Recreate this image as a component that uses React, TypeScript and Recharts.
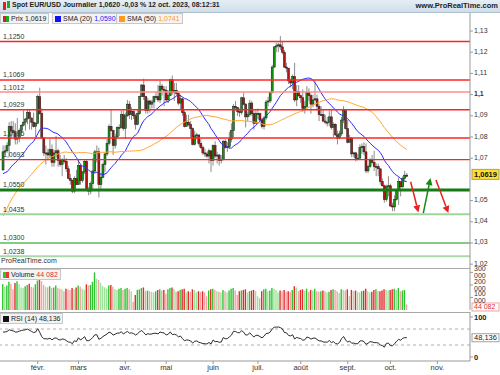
import React from 'react';
import { ComposedChart, Bar, Line, XAxis, YAxis, ReferenceLine, Cell } from 'recharts';

// EUR/USD daily, index 0 = 9 janv. 2023 ... index 198 = 12 oct. 2023
// closes before the first candle (1 nov. 2022 - 6 janv. 2023), only used to seed the SMA / RSI
const priorCloses = [
  0.9875, 0.9815, 0.975, 0.996, 1.002, 1.0075, 1.001, 1.021, 1.0355, 1.0325, 1.035, 1.0395, 1.0365, 1.0325,
  1.0245, 1.0305, 1.0405, 1.041, 1.04, 1.034, 1.033, 1.0405,
  1.0525, 1.0535, 1.049, 1.0465, 1.0505, 1.0555, 1.0535, 1.054, 1.063, 1.068, 1.0625, 1.0585, 1.0605, 1.0625,
  1.0605, 1.0595, 1.0615, 1.064, 1.064, 1.061, 1.066, 1.0705,
  1.067, 1.0545, 1.0605, 1.052, 1.0645,
];

const closes = [
  // janv.
  1.073, 1.0735, 1.076, 1.085, 1.083, 1.082, 1.079, 1.0795, 1.083, 1.0855, 1.087, 1.0885, 1.0915, 1.089, 1.087, 1.085, 1.0865,
  // févr.
  1.099, 1.091, 1.0795, 1.0725, 1.0725, 1.0715, 1.074, 1.068, 1.0725, 1.0735, 1.069, 1.067, 1.0695, 1.0685, 1.065, 1.0605, 1.0595, 1.0545, 1.0605, 1.0575,
  // mars
  1.0665, 1.0595, 1.0635, 1.0685, 1.055, 1.0545, 1.058, 1.064, 1.073, 1.073, 1.0575, 1.061, 1.067, 1.072, 1.077, 1.085, 1.083, 1.076, 1.08, 1.0845, 1.0845, 1.0905, 1.084,
  // avr.
  1.09, 1.0955, 1.0905, 1.092, 1.09, 1.086, 1.091, 1.099, 1.1045, 1.099, 1.0925, 1.097, 1.0955, 1.0965, 1.099, 1.099, 1.0975, 1.104, 1.1025, 1.102,
  // mai
  1.0975, 1.0995, 1.107, 1.101, 1.102, 1.1005, 1.096, 1.098, 1.0915, 1.085, 1.087, 1.086, 1.084, 1.0765, 1.0805, 1.081, 1.077, 1.075, 1.0725, 1.072, 1.071, 1.0735, 1.069,
  // juin
  1.076, 1.071, 1.0715, 1.069, 1.0695, 1.078, 1.075, 1.0755, 1.079, 1.083, 1.0945, 1.094, 1.092, 1.0915, 1.0985, 1.0955, 1.0895, 1.0905, 1.096, 1.091, 1.0865, 1.091,
  // juil.
  1.091, 1.088, 1.085, 1.089, 1.0965, 1.097, 1.101, 1.113, 1.1225, 1.123, 1.1235, 1.1225, 1.12, 1.113, 1.1125, 1.1065, 1.1055, 1.1085, 1.0975, 1.1015, 1.0995,
  // août
  1.0985, 1.0935, 1.0945, 1.101, 1.0995, 1.0955, 1.0975, 1.098, 1.0945, 1.0905, 1.0905, 1.0875, 1.087, 1.087, 1.0895, 1.0845, 1.086, 1.081, 1.0795, 1.0815, 1.088, 1.0925, 1.084,
  // sept.
  1.0775, 1.0795, 1.072, 1.0725, 1.07, 1.07, 1.075, 1.0755, 1.073, 1.064, 1.066, 1.069, 1.068, 1.066, 1.066, 1.065, 1.059, 1.057, 1.0505, 1.0565, 1.057,
  // oct.
  1.0475, 1.047, 1.0505, 1.055, 1.059, 1.0565, 1.0605, 1.062, 1.0619,
];

const highs = [
  1.076, 1.076, 1.0775, 1.087, 1.0875, 1.0875, 1.0865, 1.089, 1.084, 1.086, 1.0925, 1.089, 1.093, 1.093, 1.089, 1.0915, 1.087,
  1.1, 1.1033, 1.0935, 1.08, 1.076, 1.0745, 1.079, 1.0765, 1.074, 1.0805, 1.0745, 1.0715, 1.07, 1.0715, 1.07, 1.0665, 1.0625, 1.06, 1.0615, 1.0645,
  1.069, 1.067, 1.064, 1.0695, 1.0695, 1.0565, 1.059, 1.07, 1.074, 1.076, 1.075, 1.063, 1.068, 1.0725, 1.079, 1.086, 1.093, 1.0835, 1.0815, 1.085, 1.086, 1.0925, 1.0925,
  1.0915, 1.0975, 1.097, 1.094, 1.0925, 1.091, 1.0925, 1.0995, 1.105, 1.1075, 1.0995, 1.0985, 1.0975, 1.0975, 1.0995, 1.1015, 1.1045, 1.1065, 1.105, 1.104,
  1.104, 1.102, 1.1075, 1.109, 1.1055, 1.1055, 1.1015, 1.1, 1.0985, 1.0925, 1.0905, 1.0905, 1.0875, 1.0845, 1.083, 1.082, 1.081, 1.079, 1.076, 1.0745, 1.073, 1.0745, 1.0735,
  1.0765, 1.078, 1.073, 1.072, 1.0715, 1.0785, 1.079, 1.0775, 1.0825, 1.0865, 1.0955, 1.097, 1.094, 1.0935, 1.099, 1.101, 1.096, 1.092, 1.0975, 1.097, 1.0925, 1.093,
  1.0935, 1.0915, 1.089, 1.09, 1.0975, 1.099, 1.1015, 1.114, 1.123, 1.1245, 1.1245, 1.1276, 1.125, 1.121, 1.115, 1.1125, 1.1075, 1.1095, 1.115, 1.1045, 1.1045,
  1.1, 1.1025, 1.097, 1.104, 1.103, 1.1005, 1.1, 1.1065, 1.1, 1.0955, 1.0945, 1.093, 1.0905, 1.0895, 1.0925, 1.093, 1.087, 1.0865, 1.083, 1.083, 1.0895, 1.0945, 1.093,
  1.088, 1.081, 1.08, 1.073, 1.073, 1.072, 1.0765, 1.077, 1.0775, 1.077, 1.067, 1.07, 1.0715, 1.0735, 1.0675, 1.0675, 1.065, 1.0605, 1.0575, 1.0575, 1.0615,
  1.058, 1.049, 1.0525, 1.0555, 1.061, 1.058, 1.0615, 1.064, 1.063,
];

const lows = [
  1.064, 1.0715, 1.0725, 1.071, 1.079, 1.08, 1.0765, 1.0765, 1.0775, 1.0805, 1.085, 1.083, 1.086, 1.0835, 1.0835, 1.0845, 1.08,
  1.086, 1.0905, 1.0795, 1.071, 1.067, 1.069, 1.07, 1.066, 1.066, 1.0705, 1.066, 1.066, 1.0615, 1.0675, 1.0635, 1.06, 1.0575, 1.0535, 1.0535, 1.0575,
  1.0575, 1.0575, 1.0585, 1.0625, 1.0545, 1.0525, 1.053, 1.055, 1.0625, 1.068, 1.0515, 1.055, 1.0605, 1.0635, 1.071, 1.076, 1.0825, 1.0715, 1.0745, 1.0795, 1.0805, 1.084, 1.083,
  1.079, 1.0895, 1.0885, 1.088, 1.0885, 1.0835, 1.0855, 1.0905, 1.099, 1.0975, 1.091, 1.091, 1.0915, 1.0935, 1.0935, 1.0975, 1.0965, 1.096, 1.0995, 1.0945,
  1.0965, 1.096, 1.0995, 1.1, 1.097, 1.0995, 1.095, 1.093, 1.09, 1.0845, 1.085, 1.085, 1.08, 1.076, 1.076, 1.079, 1.076, 1.0745, 1.0715, 1.0705, 1.07, 1.0675, 1.0635,
  1.0665, 1.07, 1.0675, 1.0665, 1.0675, 1.069, 1.0745, 1.073, 1.0745, 1.0775, 1.08, 1.0925, 1.09, 1.0895, 1.0905, 1.095, 1.0845, 1.0875, 1.0895, 1.09, 1.0835, 1.0865,
  1.0885, 1.0875, 1.084, 1.0835, 1.088, 1.0945, 1.096, 1.1005, 1.1125, 1.12, 1.12, 1.121, 1.119, 1.1125, 1.1105, 1.105, 1.1035, 1.1025, 1.0965, 1.0945, 1.099,
  1.096, 1.092, 1.091, 1.0935, 1.097, 1.091, 1.094, 1.097, 1.0925, 1.0875, 1.09, 1.087, 1.086, 1.085, 1.085, 1.0835, 1.08, 1.0805, 1.0765, 1.079, 1.0805, 1.0865, 1.0835,
  1.077, 1.0775, 1.0705, 1.0705, 1.0685, 1.069, 1.07, 1.072, 1.0715, 1.063, 1.063, 1.0655, 1.0675, 1.064, 1.0615, 1.0615, 1.0575, 1.0565, 1.049, 1.0495, 1.052,
  1.047, 1.045, 1.045, 1.05, 1.048, 1.052, 1.056, 1.059, 1.061,
];

// volume in thousands
const volumeK = [
  205, 185, 195, 225, 210, 165, 215, 230, 205, 180, 175, 190, 200, 210, 185, 180, 205,
  235, 240, 230, 200, 185, 180, 190, 175, 180, 195, 175, 170, 165, 150, 170, 165, 160, 175, 165, 180,
  195, 185, 170, 160, 205, 195, 200, 225, 300, 250, 240, 215, 190, 180, 170, 195, 200, 185, 165, 160, 170, 175, 160,
  170, 175, 165, 150, 65, 120, 160, 165, 175, 180, 150, 155, 150, 145, 140, 150, 160, 165, 155, 160,
  130, 165, 175, 180, 165, 145, 150, 160, 165, 170, 140, 150, 145, 165, 160, 140, 150, 145, 150, 140, 110, 155, 165,
  170, 160, 150, 145, 140, 160, 150, 140, 155, 170, 175, 155, 120, 150, 155, 160, 165, 140, 150, 155, 160, 150,
  110, 95, 150, 165, 170, 150, 155, 175, 170, 160, 140, 155, 150, 160, 145, 150, 145, 160, 190, 180, 150,
  160, 165, 155, 170, 145, 160, 155, 170, 150, 145, 150, 155, 150, 140, 145, 160, 165, 160, 150, 135, 165, 160, 155,
  165, 110, 160, 150, 155, 145, 140, 150, 155, 170, 150, 140, 145, 160, 165, 150, 150, 155, 165, 160, 155,
  160, 165, 170, 160, 175, 150, 155, 160, 44.082,
];

const monthTicks = [17, 37, 60, 80, 103, 125, 146, 169, 190, 213];
const monthLabels = ['févr.', 'mars', 'avr.', 'mai', 'juin', 'juil.', 'août', 'sept.', 'oct.', 'nov.'];
// 1,06 sits under the last-price tag in the reference, so it is not listed
const priceTicks = [1.02, 1.03, 1.04, 1.05, 1.07, 1.08, 1.09, 1.1, 1.11, 1.12, 1.13];

const levelValues = [1.125, 1.1069, 1.1012, 1.0929, 1.0795, 1.0693, 1.055, 1.0435, 1.03, 1.0238];
const levelLabels = ['1,1250', '1,1069', '1,1012', '1,0929', '1,0795', '1,0693', '1,0550', '1,0435', '1,0300', '1,0238'];

// scenario arrows drawn after the last candle: [index, price]
const arrowFrom = [[199.9, 1.0589], [206.1, 1.0441], [212.3, 1.0597]];
const arrowTo = [[203.7, 1.0444], [209.6, 1.0606], [218.4, 1.0441]];

const lastPrice = 1.0619;
const lastRsi = 48.136;

// ---- styles ----
const FONT = '"Liberation Sans", Arial, sans-serif';
const levelStyle = [
  { c: '#ff2424', w: 1.5 },
  { c: '#ff2424', w: 1.5 },
  { c: '#ff8c8c', w: 1.5 },
  { c: '#ff2424', w: 1.5 },
  { c: '#ff2424', w: 1.5 },
  { c: '#ff2424', w: 1.2 },
  { c: '#177a17', w: 3 },
  { c: '#9ed69e', w: 2 },
  { c: '#5cb85c', w: 1.5 },
  { c: '#a8daa8', w: 2 },
];
const arrowColors = ['#e82020', '#148c14', '#e82020'];
const X_DOMAIN: [number, number] = [-1.5, 229];

// ---- derived series ----
const allCloses = [...priorCloses, ...closes];
const P = priorCloses.length;
const sma = (n: number, k: number) => {
  let s = 0;
  for (let j = k - n + 1; j <= k; j++) s += allCloses[j];
  return s / n;
};
const rsiAll: number[] = [];
{
  let ag = 0, al = 0;
  for (let j = 1; j < allCloses.length; j++) {
    const d = allCloses[j] - allCloses[j - 1];
    const g = Math.max(d, 0), l = Math.max(-d, 0);
    if (j <= 14) { ag += g / 14; al += l / 14; }
    else { ag = (ag * 13 + g) / 14; al = (al * 13 + l) / 14; }
    rsiAll[j] = al === 0 ? 100 : 100 - 100 / (1 + ag / al);
  }
}

const rows = closes.map((c, i) => {
  const o = allCloses[P + i - 1];
  const up = c >= o;
  const lighter = i > 0 && volumeK[i] < volumeK[i - 1];
  return {
    i, o, c, h: highs[i], l: lows[i],
    range: [lows[i], highs[i]],
    sma20: sma(20, P + i),
    sma50: sma(50, P + i),
    vol: volumeK[i],
    volColor: up ? (lighter ? '#9be39b' : '#2ec42e') : (lighter ? '#f2a3a3' : '#e22c2c'),
    rsi: rsiAll[P + i],
  };
});

const fmt = (v: number) => String(parseFloat(v.toFixed(4))).replace('.', ',');

function Candle(props: any) {
  const { x, y, width, height, payload } = props;
  if (!payload || height == null) return null;
  const { o, c, h, l } = payload;
  const top = Math.min(y, y + height);
  const span = Math.abs(height);
  const k = h > l ? span / (h - l) : 0;
  const cx = x + width / 2;
  const bTop = top + (h - Math.max(o, c)) * k;
  const bH = Math.max(1, Math.abs(o - c) * k);
  return (
    <g>
      <line x1={cx} x2={cx} y1={top} y2={top + span} stroke="#8c8c8c" strokeWidth={1} />
      <rect x={cx - 1} y={bTop} width={2} height={bH} fill={c >= o ? '#129612' : '#b01515'} stroke="#1a1a1a" strokeWidth={0.5} />
    </g>
  );
}

function LevelLabel({ viewBox, text }: any) {
  if (!viewBox) return null;
  return (
    <text x={viewBox.x + 3} y={viewBox.y - 2.5} fontSize={7} fill="#333" fontFamily={FONT}>{text}</text>
  );
}

function Tag({ viewBox, text, fill, stroke, color, bold, h = 10, dy = 0, fs = 7.5 }: any) {
  if (!viewBox) return null;
  const x = viewBox.x + viewBox.width + 2;
  const cy = viewBox.y + dy;
  return (
    <g>
      <rect x={x} y={cy - h / 2} width={27} height={h} fill={fill} stroke={stroke} strokeWidth={1} />
      <text x={x + 2} y={cy + fs / 3} fontSize={fs} fontWeight={bold ? 'bold' : 'normal'} fill={color} fontFamily={FONT}>{text}</text>
    </g>
  );
}

function Arrow(props: any) {
  const { x1, y1, x2, y2, color } = props;
  if ([x1, y1, x2, y2].some((v) => v == null)) return null;
  const a = Math.atan2(y2 - y1, x2 - x1);
  const len = 7, hw = 3.5;
  const bx = x2 - len * Math.cos(a), by = y2 - len * Math.sin(a);
  const px = -Math.sin(a) * hw, py = Math.cos(a) * hw;
  return (
    <g>
      <line x1={x1} y1={y1} x2={bx} y2={by} stroke={color} strokeWidth={1.5} />
      <polygon points={`${x2},${y2} ${bx + px},${by + py} ${bx - px},${by - py}`} fill={color} />
    </g>
  );
}

function PriceTick({ x, y, payload }: any) {
  const v = payload.value;
  const s = String(parseFloat(v.toFixed(2))).replace('.', ',');
  return (
    <text x={x} y={y + 1.5} fontSize={7} fill="#333" fontFamily={FONT} fontWeight={Math.abs(v - 1.1) < 1e-6 ? 'bold' : 'normal'}>{s}</text>
  );
}

const boxStyle: React.CSSProperties = {
  position: 'absolute', height: 9, background: '#f3f3f3', border: '1px solid #c8c8c8',
  fontSize: 7, lineHeight: '9px', color: '#222', display: 'flex', alignItems: 'center', gap: 2, padding: '0 2px',
};
const sq = (bg: string): React.CSSProperties => ({ width: 6, height: 6, background: bg, display: 'inline-block' });

export default function App() {
  return (
    <div style={{ position: 'absolute', left: 0, top: 0, width: 500, height: 375, background: '#fff', fontFamily: FONT, overflow: 'hidden' }}>
      {/* title bar */}
      <div style={{ position: 'absolute', left: 0, top: 0, width: 500, height: 12, background: 'linear-gradient(#e6eef5, #cfdeea)', borderBottom: '1px solid #aebfcd' }} />
      <div style={{ position: 'absolute', left: 3, top: 2, width: 3, height: 8, background: '#d22' }} />
      <div style={{ position: 'absolute', left: 7, top: 1, width: 3, height: 7, background: '#2a2' }} />
      <div style={{ position: 'absolute', left: 12, top: 1, fontSize: 7, fontWeight: 'bold', color: '#222', whiteSpace: 'nowrap' }}>
        Spot EUR/USD Journalier 1,0620 -0,03 % 12 oct. 2023, 08:12:31
      </div>
      <div style={{ position: 'absolute', right: 2, top: 1, fontSize: 7.5, fontWeight: 'bold', color: '#222' }}>www.ProRealTime.com</div>

      {/* price panel */}
      <div style={{ position: 'absolute', left: 0, top: 13 }}>
        <ComposedChart width={500} height={255} data={rows} margin={{ top: 0, right: 0, bottom: 0, left: 0 }}>
          <XAxis type="number" dataKey="i" domain={X_DOMAIN} hide allowDataOverflow />
          <YAxis orientation="right" width={30} domain={[1.0182, 1.1385]} ticks={priceTicks} allowDataOverflow
            tick={<PriceTick />} tickSize={3} tickMargin={1} stroke="#999" interval={0} />
          <Bar dataKey="range" barSize={2} shape={<Candle />} isAnimationActive={false} />
          <Line dataKey="sma20" stroke="#2b2bff" strokeWidth={1} dot={false} isAnimationActive={false} />
          <Line dataKey="sma50" stroke="#ffa531" strokeWidth={1} dot={false} isAnimationActive={false} />
          {levelValues.map((v, k) => (
            <ReferenceLine key={v} y={v} stroke={levelStyle[k].c} strokeWidth={levelStyle[k].w}
              label={<LevelLabel text={levelLabels[k]} />} />
          ))}
          {arrowFrom.map((a, k) => (
            <ReferenceLine key={'a' + k} segment={[{ x: a[0], y: a[1] }, { x: arrowTo[k][0], y: arrowTo[k][1] }]}
              shape={(p: any) => <Arrow {...p} color={arrowColors[k]} />} />
          ))}
          <ReferenceLine y={lastPrice} stroke="none"
            label={<Tag text={fmt(lastPrice)} fill="#ffdd33" stroke="#b3a04a" color="#111" bold dy={-1} />} />
        </ComposedChart>
      </div>
      <div style={{ position: 'absolute', left: 1, top: 257, fontSize: 7, color: '#333' }}>ProRealTime.com</div>

      {/* volume panel */}
      <div style={{ position: 'absolute', left: 0, top: 268, width: 470, borderTop: '1px solid #aaa' }} />
      <div style={{ position: 'absolute', left: 0, top: 266 }}>
        <ComposedChart width={500} height={46} data={rows} margin={{ top: 2, right: 0, bottom: 2, left: 0 }}>
          <XAxis type="number" dataKey="i" domain={X_DOMAIN} hide allowDataOverflow />
          <YAxis orientation="right" width={30} domain={[0, 335]} ticks={[100, 200, 300]} interval={0}
            tickFormatter={(v: number) => `${v} 000`} tick={{ fontSize: 7, fill: '#333', textAnchor: 'start' }}
            tickSize={3} tickMargin={1} stroke="#999" />
          <Bar dataKey="vol" barSize={1.4} isAnimationActive={false}>
            {rows.map((r) => <Cell key={r.i} fill={r.volColor} />)}
          </Bar>
          <ReferenceLine y={volumeK[volumeK.length - 1]} stroke="none"
            label={<Tag text="44 082" fill="#fff" stroke="#f0a0a0" color="#e03030" h={8} dy={2.5} fs={7} />} />
        </ComposedChart>
      </div>

      {/* RSI panel */}
      <div style={{ position: 'absolute', left: 0, top: 312, width: 470, borderTop: '1px solid #aaa' }} />
      <div style={{ position: 'absolute', left: 0, top: 312 }}>
        <ComposedChart width={500} height={63} data={rows} margin={{ top: 0, right: 0, bottom: 0, left: 0 }}>
          <XAxis type="number" dataKey="i" domain={X_DOMAIN} ticks={monthTicks} interval={0} allowDataOverflow
            tickFormatter={(v: number) => monthLabels[monthTicks.indexOf(v)]}
            tick={{ fontSize: 7.5, fill: '#333' }} tickSize={3} tickMargin={1} stroke="#999" height={14} />
          <YAxis orientation="right" width={30} domain={[-10, 112.5]} ticks={[0, 100]} interval={0}
            tick={{ fontSize: 7.5, fill: '#222', fontWeight: 'bold', textAnchor: 'start' }}
            tickSize={3} tickMargin={1} stroke="#999" />
          <ReferenceLine y={70} stroke="#b0b0b0" strokeDasharray="3 3" />
          <ReferenceLine y={30} stroke="#b0b0b0" strokeDasharray="3 3" />
          <Line dataKey="rsi" stroke="#2a2a2a" strokeWidth={1} dot={false} isAnimationActive={false} />
          <ReferenceLine y={lastRsi} stroke="none"
            label={<Tag text={fmt(lastRsi)} fill="#fff" stroke="#a0a0a0" color="#222" h={8} />} />
        </ComposedChart>
      </div>

      {/* legends */}
      <div style={{ ...boxStyle, left: 0, top: 13 }}>
        <span style={{ ...sq('linear-gradient(90deg, #c22 50%, #2a2 50%)') }} />Prix 1,0619
      </div>
      <div style={{ ...boxStyle, left: 52, top: 13 }}>
        <span style={sq('#1010ff')} />SMA (20) <span style={{ color: '#2323ff' }}>1,0590</span>
      </div>
      <div style={{ ...boxStyle, left: 116, top: 13 }}>
        <span style={sq('#ff9a1a')} />SMA (50) <span style={{ color: '#ff9a1a' }}>1,0741</span>
      </div>
      <div style={{ ...boxStyle, left: 0, top: 269 }}>
        <span style={sq('linear-gradient(90deg, #2c2 50%, #e33 50%)')} />Volume <span style={{ color: '#e03030' }}>44 082</span>
      </div>
      <div style={{ ...boxStyle, left: 0, top: 313 }}>
        <span style={sq('#111')} />RSI (14) 48,136
      </div>
    </div>
  );
}
